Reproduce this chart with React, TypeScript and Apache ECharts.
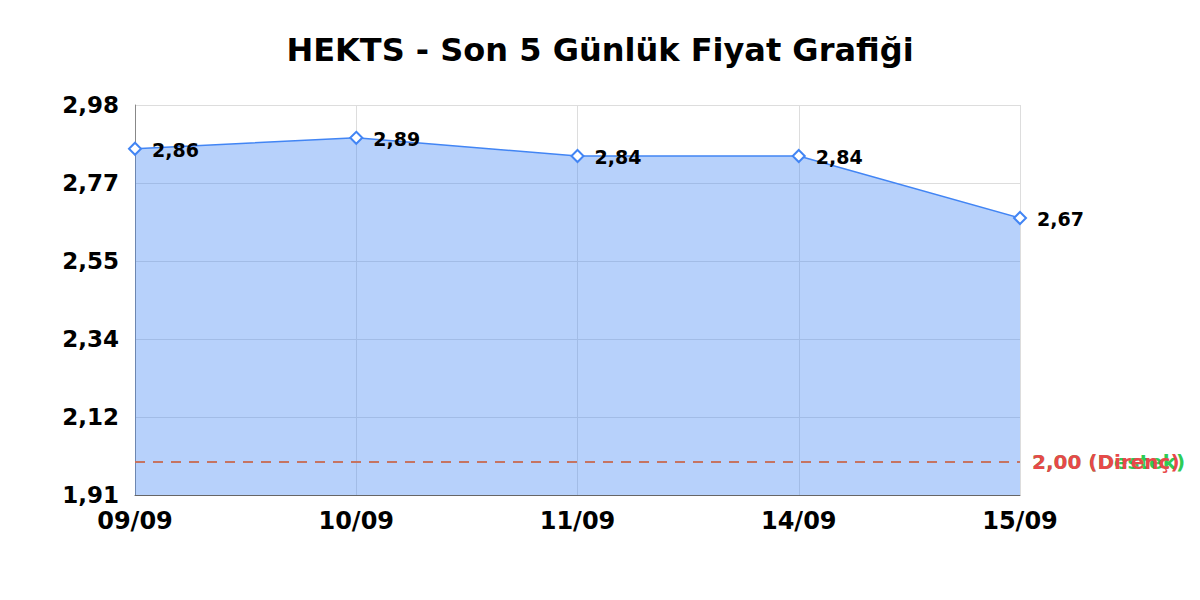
import React, { useEffect, useRef } from "react";
import * as echarts from "echarts";

const title = "HEKTS - Son 5 Günlük Fiyat Grafiği";
const dates = ["09/09", "10/09", "11/09", "14/09", "15/09"];
const prices = [2.86, 2.89, 2.84, 2.84, 2.67];
const yTickLabels = ["1,91", "2,12", "2,34", "2,55", "2,77", "2,98"];
const yMin = 1.91;
const yMax = 2.98;
const supportLevel = 2.0;
const resistanceLevel = 2.0;

const fmt = (v: number) => v.toFixed(2).replace(".", ",");

export default function App() {
  const ref = useRef<HTMLDivElement>(null);
  useEffect(() => {
    document.body.style.margin = "0";
    if (!ref.current) return;
    const chart = echarts.init(ref.current, undefined, { renderer: "svg" });
    const font = "DejaVu Sans";
    chart.setOption({
      animation: false,
      backgroundColor: "#ffffff",
      title: {
        text: title,
        left: "center",
        top: 29,
        textStyle: { fontFamily: font, fontWeight: "bold", fontSize: 32, color: "#000" },
      },
      grid: { left: 135, right: 180, top: 105, bottom: 105, containLabel: false },
      xAxis: {
        type: "category",
        data: dates,
        boundaryGap: false,
        axisLine: { show: true, lineStyle: { color: "#666", width: 1 } },
        axisTick: { show: false },
        axisLabel: { fontFamily: font, fontWeight: "bold", fontSize: 24, color: "#000", margin: 14 },
        splitLine: { show: true, lineStyle: { color: "#ddd", width: 1 } },
      },
      yAxis: [
        {
          type: "value",
          min: yMin,
          max: yMax,
          show: false,
          splitLine: { show: false },
        },
        {
          type: "category",
          data: yTickLabels,
          boundaryGap: false,
          position: "left",
          axisLine: { show: true, lineStyle: { color: "#888", width: 1 } },
          axisTick: { show: false },
          axisLabel: { fontFamily: font, fontWeight: "bold", fontSize: 23, color: "#000", margin: 16 },
          splitLine: { show: true, lineStyle: { color: "#ddd", width: 1 } },
        },
      ],
      series: [
        {
          type: "line",
          yAxisIndex: 0,
          data: prices,
          symbol: "diamond",
          symbolSize: 12,
          lineStyle: { color: "#4285f4", width: 1.5 },
          itemStyle: { color: "#ffffff", borderColor: "#4285f4", borderWidth: 2 },
          areaStyle: { color: "rgba(66,133,244,0.38)", opacity: 1, origin: "start" },
          label: {
            show: true,
            position: "right",
            distance: 10,
            offset: [0, 1],
            fontFamily: font,
            fontWeight: "bold",
            fontSize: 19,
            color: "#000",
            formatter: (p: any) => fmt(p.value),
          },
          markLine: {
            silent: true,
            symbol: "none",
            data: [
              {
                yAxis: supportLevel,
                lineStyle: { color: "#3cc460", type: [10, 8], width: 1.5 },
                label: {
                  show: true,
                  position: "end",
                  formatter: fmt(supportLevel) + " (Destek)",
                  color: "#2ecc55",
                  fontFamily: font,
                  fontWeight: "bold",
                  fontSize: 20,
                  distance: 12,
                },
              },
              {
                yAxis: resistanceLevel,
                lineStyle: { color: "#ea5a55", type: [10, 8], width: 1.5, opacity: 1 },
                label: {
                  show: true,
                  position: "end",
                  formatter: fmt(resistanceLevel) + " (Direnç)",
                  color: "#e8484a",
                  fontFamily: font,
                  fontWeight: "bold",
                  fontSize: 20,
                  distance: 12,
                },
              },
            ],
          },
        },
      ],
    });
    return () => chart.dispose();
  }, []);
  return <div ref={ref} style={{ width: 1200, height: 600 }} />;
}
